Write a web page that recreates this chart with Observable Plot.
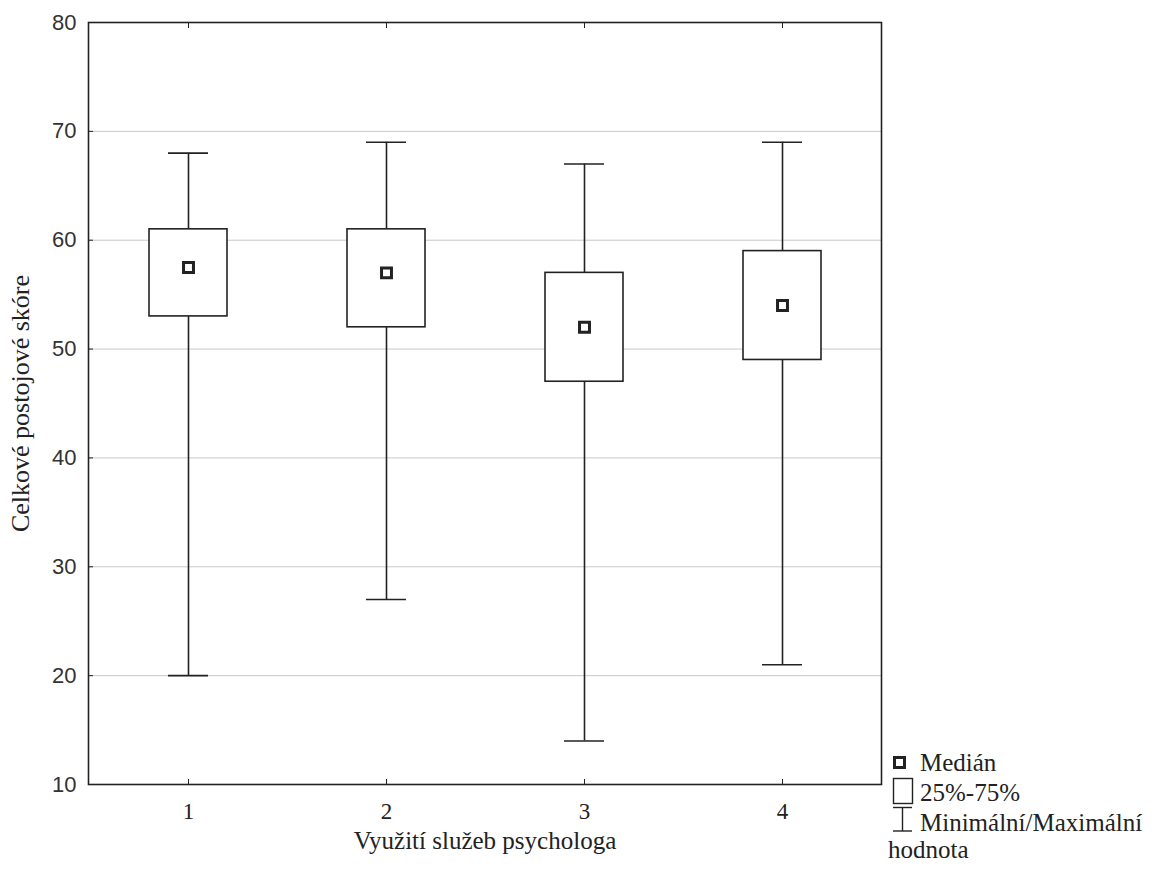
<!DOCTYPE html>
<html><head><meta charset="utf-8">
<script src="https://cdn.jsdelivr.net/npm/d3@7"></script>
<script src="https://cdn.jsdelivr.net/npm/@observablehq/plot@0.6"></script>
<style>
body{margin:0;background:#fff;}
#wrap{position:relative;width:1152px;height:870px;}
</style></head><body><div id="wrap"></div>
<script>
const categories = ["1","2","3","4"];
const minimum = [20,27,14,21];
const q1 = [53,52,47,49];
const median = [57.5,57,52,54];
const q3 = [61,61,57,59];
const maximum = [68,69,67,69];
const yTicks = [10,20,30,40,50,60,70,80];
const gridTicks = [20,30,40,50,60,70];
const xTitle = "Využití služeb psychologa";
const yTitle = "Celkové postojové skóre";
const legendLabels = ["Medián","25%-75%","Minimální/Maximální","hodnota"];

const data = categories.map((c,i)=>({cat:c,min:minimum[i],q1:q1[i],med:median[i],q3:q3[i],max:maximum[i]}));
const ink = "#222";
const serif = "'Liberation Serif','Times New Roman',serif";
const sans = "'Liberation Sans',Arial,sans-serif";

const chart = Plot.plot({
  width:1152, height:870,
  marginLeft:88, marginRight:271, marginTop:22, marginBottom:86,
  x:{type:"band", domain:categories, padding:0},
  y:{domain:[10,80]},
  style:{background:"#fff", overflow:"visible"},
  marks:[
    Plot.gridY(gridTicks,{stroke:"#c8c8c8", strokeOpacity:1}),
    Plot.ruleX(data,{x:"cat", y1:"min", y2:"max", stroke:ink, strokeWidth:1.6}),
    Plot.tickY(data,{x:"cat", y:"min", inset:79, stroke:ink, strokeWidth:1.6}),
    Plot.tickY(data,{x:"cat", y:"max", inset:79, stroke:ink, strokeWidth:1.6}),
    Plot.barY(data,{x:"cat", y1:"q1", y2:"q3", insetLeft:60, insetRight:60, fill:"white", stroke:ink, strokeWidth:1.6}),
    Plot.dot(data,{x:"cat", y:"med", symbol:"square", r:5.6, fill:"white", stroke:ink, strokeWidth:3}),
    Plot.frame({stroke:ink, strokeWidth:1.6}),
    Plot.axisY(yTicks,{anchor:"left", tickSize:0, tickPadding:12, fontSize:22, fontFamily:sans, fill:"#333", label:null}),
    Plot.axisY(gridTicks,{anchor:"left", tickSize:-5, tickFormat:()=>"", label:null, stroke:ink}),
    Plot.axisX(categories,{anchor:"bottom", tickSize:0, tickPadding:18, fontSize:23, fontFamily:serif, fill:ink, label:null}),
    Plot.axisX(categories,{anchor:"bottom", tickSize:-5, tickFormat:()=>"", label:null, stroke:ink}),
    Plot.axisX(categories,{anchor:"top", tickSize:-5, tickFormat:()=>"", label:null, stroke:ink}),
    Plot.text([xTitle],{frameAnchor:"bottom", dy:64, fontSize:25, fontFamily:serif, fill:ink}),
    Plot.text([yTitle],{frameAnchor:"left", textAnchor:"middle", rotate:-90, dx:-68, fontSize:26, fontFamily:serif, fill:ink})
  ]
});
document.getElementById("wrap").appendChild(chart);

// legend
const svg = d3.select(chart.tagName.toLowerCase()==="svg" ? chart : chart.querySelector("svg"));
const lg = svg.append("g").attr("font-family", serif).attr("font-size", 25).attr("fill", ink).attr("text-anchor","start");
lg.append("rect").attr("x",894.5).attr("y",757.5).attr("width",10).attr("height",10)
  .attr("fill","white").attr("stroke",ink).attr("stroke-width",3);
lg.append("rect").attr("x",893.5).attr("y",778.5).attr("width",19).attr("height",25)
  .attr("fill","white").attr("stroke",ink).attr("stroke-width",1.4);
lg.append("line").attr("x1",893).attr("x2",912).attr("y1",807.5).attr("y2",807.5).attr("stroke",ink).attr("stroke-width",1.4);
lg.append("line").attr("x1",902.5).attr("x2",902.5).attr("y1",807.5).attr("y2",831).attr("stroke",ink).attr("stroke-width",1.4);
lg.append("line").attr("x1",893).attr("x2",912).attr("y1",831).attr("y2",831).attr("stroke",ink).attr("stroke-width",1.4);
lg.append("text").attr("x",920).attr("y",771).text(legendLabels[0]);
lg.append("text").attr("x",920).attr("y",801).text(legendLabels[1]);
lg.append("text").attr("x",920).attr("y",831).text(legendLabels[2]);
lg.append("text").attr("x",888).attr("y",858).text(legendLabels[3]);
</script></body></html>
